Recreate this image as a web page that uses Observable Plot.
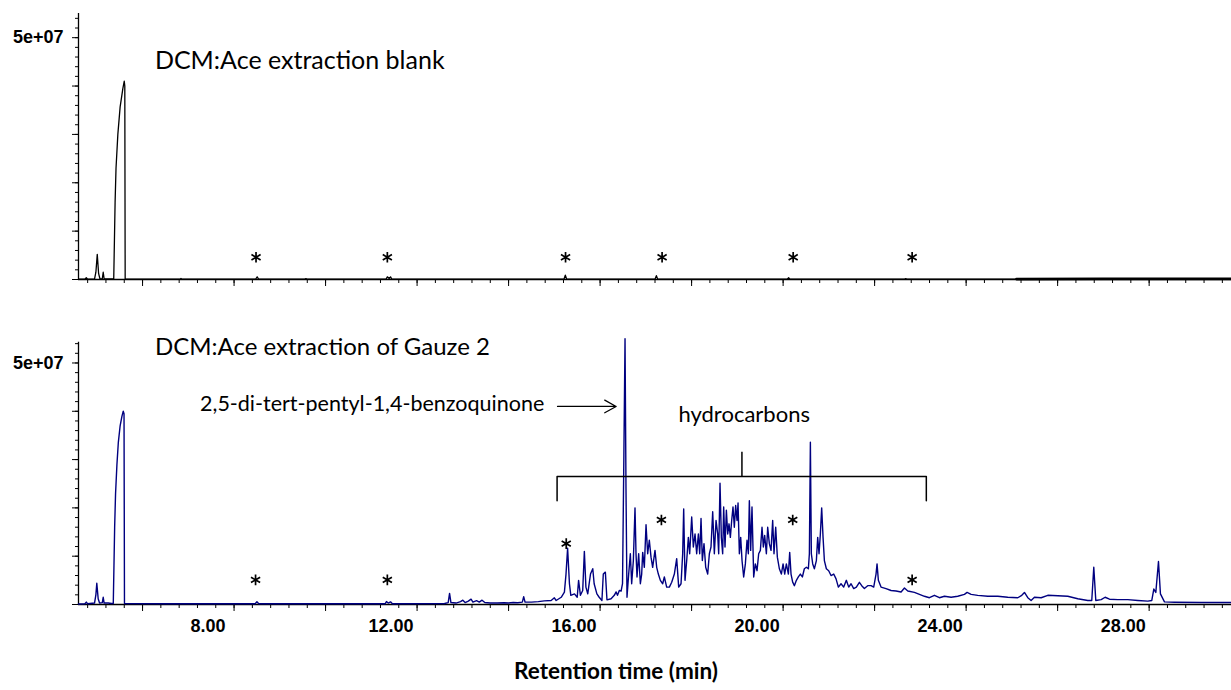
<!DOCTYPE html>
<html><head><meta charset="utf-8">
<script src="https://cdn.jsdelivr.net/npm/d3@7"></script>
<script src="https://cdn.jsdelivr.net/npm/@observablehq/plot@0.6"></script>
<style>
body{margin:0;background:#fff;}
#chart svg{display:block;}
</style></head><body><div id="chart"></div>
<script>
// ---- axis definitions ----
const XMIN = 4.6, XMAX = 29.8;
const xMajorTicks = [6, 8, 10, 12, 14, 16, 18, 20, 22, 24, 26, 28];
const xMinorTicks = d3.range(4.8, 29.8, 0.4);
const xLabelTicks = [8, 12, 16, 20, 24, 28];
const xLabelText = ["8.00", "12.00", "16.00", "20.00", "24.00", "28.00"];
const yMajorTicks = [0, 10, 20, 30, 40, 50];      // intensity, millions of counts
const yMinorTicks = d3.range(0, 55, 2);
const yLabelTicks = [50];
const yLabelText = ["5e+07"];
const xTitle = "Retention time (min)";

// ---- blank chromatogram: [time (min), intensity (millions)] ----
const blankTrace = [
  [4.60,0.05],[4.74,0.05],[4.77,0.35],[4.80,0.05],[4.95,0.1],[4.98,1.5],[5.01,5.2],[5.04,1.2],[5.07,0.1],
  [5.12,0.15],[5.14,1.5],[5.16,0.15],[5.30,0.1],[5.37,0.1],[5.385,8],[5.40,16],[5.42,23],[5.46,30],
  [5.51,35.7],[5.57,39.5],[5.60,41],[5.612,40],[5.62,0.1],[6.82,0.05],[6.84,0.2],[6.86,0.05],
  [8.47,0.05],[8.505,0.55],[8.54,0.05],[9.54,0.05],[9.57,0.2],[9.60,0.05],[11.32,0.05],[11.35,0.55],
  [11.39,0.2],[11.42,0.55],[11.45,0.05],[15.21,0.05],[15.24,0.9],[15.27,0.05],[17.20,0.05],[17.23,0.8],
  [17.26,0.05],[20.09,0.05],[20.12,0.35],[20.15,0.05],[22.65,0.05],[22.68,0.2],[22.71,0.05],[25.10,0.08],
  [27.0,0.12],[29.8,0.12]
];
const blankNoisyFrom = 25.1;

// ---- gauze 2 chromatogram: [time (min), intensity (millions)] ----
const gauzeTrace = [
  [4.60,0.10],[4.74,0.15],[4.77,0.5],[4.80,0.15],[4.95,0.3],[4.98,2.0],[5.00,4.4],[5.03,1.2],[5.06,0.3],
  [5.12,0.4],[5.14,1.5],[5.16,0.3],[5.25,0.3],[5.32,0.2],[5.36,0.2],[5.375,8],[5.39,16],[5.41,23],
  [5.44,29],[5.47,33.5],[5.51,37],[5.55,39],[5.578,40],[5.595,39.5],[5.605,0.2],[6.5,0.15],[7.3,0.15],
  [8.46,0.15],[8.50,0.55],[8.54,0.15],[9.6,0.15],[10.5,0.15],[11.30,0.15],[11.33,0.6],[11.37,0.3],
  [11.42,0.55],[11.46,0.15],[12.60,0.2],[12.68,0.4],[12.71,2.3],[12.74,0.4],[12.85,0.3],[12.95,0.6],
  [13.00,0.9],[13.05,0.4],[13.12,0.7],[13.18,1.1],[13.22,0.5],[13.30,0.8],[13.36,0.5],[13.42,0.9],
  [13.48,0.4],[13.60,0.3],[13.75,0.3],[13.90,0.35],[14.00,0.3],[14.10,0.4],[14.20,0.35],[14.30,0.5],
  [14.33,1.6],[14.36,0.5],[14.50,0.5],[14.65,0.6],[14.78,0.76],[14.93,0.83],[15.00,1.38],[15.04,0.83],
  [15.15,1.5],[15.22,2.55],[15.255,6.3],[15.29,11.66],[15.33,4.3],[15.36,1.9],[15.44,2.2],[15.50,1.5],
  [15.53,5.0],[15.57,1.9],[15.62,2.9],[15.656,11.0],[15.69,3.6],[15.73,2.2],[15.79,6.3],[15.84,7.4],
  [15.87,4.3],[15.93,2.2],[15.98,1.5],[16.04,0.83],[16.07,6.3],[16.115,6.7],[16.15,0.97],[16.24,1.2],
  [16.31,1.9],[16.35,2.6],[16.38,1.9],[16.42,2.9],[16.46,2.8],[16.49,4.3],[16.52,31],[16.545,55],
  [16.566,24],[16.588,1.5],[16.625,6.3],[16.661,10.5],[16.69,4.3],[16.727,9.1],[16.763,20],[16.785,10.5],
  [16.807,5.7],[16.843,10.5],[16.88,4.3],[16.909,6.3],[16.931,10.8],[16.967,7.7],[17.004,16.5],[17.04,10.5],
  [17.076,13.3],[17.113,9.8],[17.149,7.7],[17.2,11.2],[17.237,7.7],[17.273,6.3],[17.317,5.0],[17.368,4.3],
  [17.404,5.7],[17.455,3.6],[17.514,3.6],[17.565,4.6],[17.623,6.3],[17.674,9.5],[17.718,3.6],[17.769,4.3],
  [17.805,10.5],[17.827,19.8],[17.856,5.0],[17.893,9.1],[17.929,13.9],[17.958,10.5],[18.002,18.1],
  [18.038,11.9],[18.075,14.6],[18.111,10.5],[18.148,14.6],[18.177,10.5],[18.206,17.8],[18.235,9.1],
  [18.271,12.6],[18.308,7.7],[18.352,6.3],[18.388,10.5],[18.424,11.9],[18.461,19.2],[18.497,10.5],
  [18.534,17.4],[18.57,14.6],[18.592,10.5],[18.621,25.1],[18.65,13.9],[18.679,10.5],[18.701,20.2],
  [18.73,11.9],[18.76,19.5],[18.789,14.6],[18.818,16.7],[18.847,13.9],[18.876,17.4],[18.905,20.2],
  [18.934,16.0],[18.963,20.5],[18.993,17.4],[19.015,21.0],[19.044,10.5],[19.073,13.9],[19.102,9.1],
  [19.138,5.7],[19.175,8.4],[19.211,13.3],[19.24,10.5],[19.262,21.5],[19.291,11.2],[19.32,20.2],
  [19.357,5.7],[19.393,8.4],[19.43,7.0],[19.466,10.5],[19.503,11.2],[19.539,16.0],[19.568,11.9],
  [19.597,14.3],[19.634,10.5],[19.663,16.0],[19.699,12.6],[19.736,11.2],[19.772,17.4],[19.801,10.5],
  [19.838,16.0],[19.874,9.8],[19.918,7.4],[19.962,6.3],[19.999,8.4],[20.035,6.3],[20.071,8.4],
  [20.115,6.3],[20.144,10.8],[20.173,6.3],[20.21,4.6],[20.246,3.9],[20.29,5.0],[20.333,5.7],[20.377,6.3],
  [20.421,5.7],[20.464,7.4],[20.508,7.7],[20.552,7.4],[20.574,10.5],[20.596,33.6],[20.617,10.5],
  [20.647,8.4],[20.683,7.4],[20.727,9.1],[20.756,13.9],[20.785,10.5],[20.814,14.6],[20.843,20],
  [20.873,13.9],[20.902,9.1],[20.945,7.4],[20.996,7.0],[21.047,6.0],[21.106,6.3],[21.157,5.3],
  [21.208,3.6],[21.266,4.3],[21.324,3.6],[21.382,5.0],[21.434,3.6],[21.485,4.3],[21.543,3.3],
  [21.601,3.6],[21.667,4.6],[21.718,3.9],[21.776,3.3],[21.849,3.9],[21.922,3.9],[21.98,3.6],
  [22.031,6.3],[22.053,8.4],[22.082,5.0],[22.14,3.6],[22.249,3.3],[22.359,2.9],[22.468,2.8],[22.578,2.6],
  [22.652,3.4],[22.725,2.8],[22.87,2.5],[22.98,2.1],[23.089,1.7],[23.198,1.4],[23.307,1.9],[23.417,1.4],
  [23.526,1.7],[23.672,1.5],[23.817,1.7],[23.963,2.1],[24.021,2.5],[24.109,2.1],[24.254,1.9],
  [24.473,1.7],[24.692,1.7],[24.91,1.5],[25.129,1.4],[25.216,1.9],[25.275,2.5],[25.348,1.4],[25.42,0.83],
  [25.493,1.5],[25.639,1.4],[25.785,1.9],[26.004,1.8],[26.222,1.7],[26.44,1.2],[26.659,0.83],
  [26.746,0.83],[26.79,7.7],[26.834,0.83],[26.951,1.0],[27.038,1.5],[27.133,1.1],[27.315,1.0],
  [27.533,1.0],[27.752,0.83],[27.971,0.69],[28.058,0.83],[28.102,3.2],[28.146,2.5],[28.204,8.9],
  [28.247,2.2],[28.335,0.55],[28.553,0.48],[29.136,0.41],[29.8,0.41]
];

// ---- annotations (time, intensity in millions) ----
const blankTitle = [{t: 6.27, v: 45.2, text: "DCM:Ace extraction blank"}];
const gauzeTitle = [{t: 6.27, v: 53.2, text: "DCM:Ace extraction of Gauze 2"}];
const blankStars = [[8.48,4.6],[11.35,4.6],[15.245,4.6],[17.355,4.6],[20.22,4.6],[22.82,4.6]];
const gauzeStars = [[8.47,5.1],[11.35,5.1],[15.26,12.6],[17.34,17.5],[20.21,17.5],[22.82,5.1]];
const quinoneLabel = [{t: 14.78, v: 41.4, text: "2,5-di-tert-pentyl-1,4-benzoquinone"}];
const quinoneArrow = [{t1: 15.07, t2: 16.35, v: 41.0}];
const hcLabel = [{t: 19.15, v: 39.3, text: "hydrocarbons"}];
const hcBracket = [[15.06,21.5],[15.06,26.5],[23.13,26.5],[23.13,21.5]];
const hcBracketTick = [{t: 19.1, v1: 26.5, v2: 31.5}];

const tickFont = {fontFamily: "Liberation Sans", fontWeight: "bold", fontSize: 18};

function axes(ytop, withLabels) {
  const m = [
    Plot.axisY(yMinorTicks, {tickSize: 3, tickFormat: () => "", strokeWidth: 1}),
    Plot.axisY(yMajorTicks, {tickSize: 6, tickFormat: () => "", strokeWidth: 1}),
    Plot.axisY(yLabelTicks, {tickSize: 0, tickPadding: 15, tickFormat: (d) => yLabelText[yLabelTicks.indexOf(d)], ...tickFont}),
    Plot.axisX(xMinorTicks, {tickSize: 4, tickFormat: () => "", strokeWidth: 1}),
    Plot.axisX(xMajorTicks, {tickSize: 7, tickFormat: () => "", strokeWidth: 1}),
    Plot.ruleY([0], {strokeWidth: 1.3}),
    Plot.ruleX([XMIN], {y1: 0, y2: ytop, strokeWidth: 1.3})
  ];
  if (withLabels) {
    m.push(Plot.axisX(xLabelTicks, {tickSize: 0, tickPadding: 15, dx: -26,
      tickFormat: (d) => xLabelText[xLabelTicks.indexOf(d)], ...tickFont}));
  }
  return m;
}

const starStyle = {x: d => d[0], y: d => d[1], symbol: "asterisk", r: 5, stroke: "black", strokeWidth: 1.7};

const topChart = Plot.plot({
  width: 1231, height: 300, marginLeft: 78, marginRight: 0, marginTop: 13, marginBottom: 21,
  x: {domain: [XMIN, XMAX], label: null},
  y: {domain: [0, 55], label: null},
  style: {fontFamily: "Lato", background: "white"},
  marks: [
    ...axes(55, false),
    Plot.line(blankTrace, {x: d => d[0], y: d => d[1], stroke: "black", strokeWidth: 1.3}),
    Plot.line(blankTrace.filter(d => d[0] >= blankNoisyFrom), {x: d => d[0], y: d => d[1], stroke: "black", strokeWidth: 2.6}),
    Plot.text(blankTitle, {x: "t", y: "v", text: "text", textAnchor: "start", fontSize: 25, fill: "black"}),
    Plot.dot(blankStars, starStyle)
  ]
});

const bottomChart = Plot.plot({
  width: 1231, height: 390, marginLeft: 78, marginRight: 0, marginTop: 41.7, marginBottom: 86,
  x: {domain: [XMIN, XMAX], label: null},
  y: {domain: [0, 54.3], label: null},
  style: {fontFamily: "Lato", background: "white", overflow: "visible"},
  marks: [
    ...axes(54.3, true),
    Plot.line(gauzeTrace, {x: d => d[0], y: d => d[1], stroke: "#000080", strokeWidth: 1.4}),
    Plot.text(gauzeTitle, {x: "t", y: "v", text: "text", textAnchor: "start", fontSize: 24, fill: "black"}),
    Plot.dot(gauzeStars, starStyle),
    Plot.text(quinoneLabel, {x: "t", y: "v", text: "text", textAnchor: "end", fontSize: 21.5, fill: "black"}),
    Plot.arrow(quinoneArrow, {x1: "t1", x2: "t2", y1: "v", y2: "v", stroke: "black", strokeWidth: 1.3, headLength: 15, headAngle: 58}),
    Plot.text(hcLabel, {x: "t", y: "v", text: "text", fontSize: 22, fill: "black"}),
    Plot.line(hcBracket, {x: d => d[0], y: d => d[1], stroke: "black", strokeWidth: 1.5}),
    Plot.ruleX(hcBracketTick, {x: "t", y1: "v1", y2: "v2", stroke: "black", strokeWidth: 1.5}),
    Plot.text([xTitle], {frameAnchor: "bottom", text: d => d, dx: -39, dy: 74, fontSize: 22.5, fontWeight: "bold", fill: "black"})
  ]
});

document.getElementById("chart").append(topChart, bottomChart);
</script></body></html>
